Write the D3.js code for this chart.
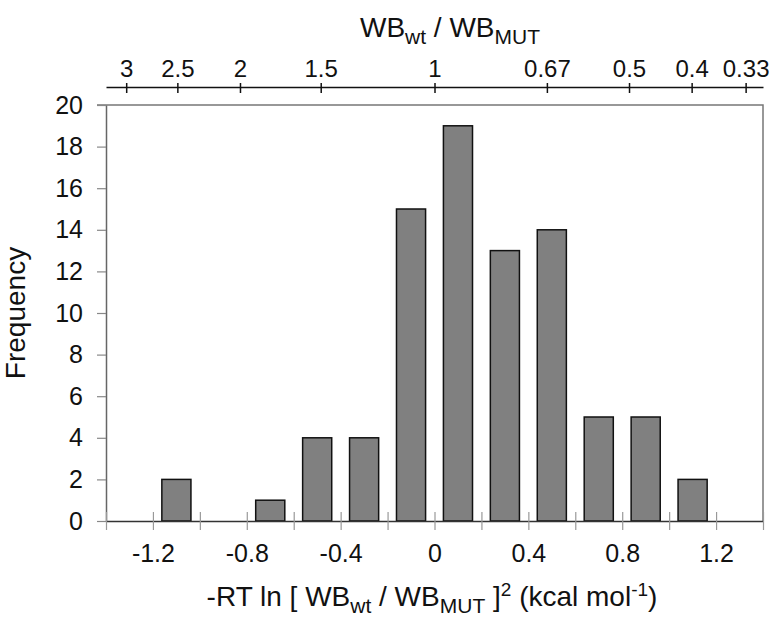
<!DOCTYPE html>
<html>
<head>
<meta charset="utf-8">
<script src="https://cdn.jsdelivr.net/npm/d3@7"></script>
<style>
  body { margin: 0; background: #fff; }
  svg { font-family: "Liberation Sans", Arial, sans-serif; }
</style>
</head>
<body>
<div id="chart"></div>
<script>
// histogram of -RT ln [WBwt/WBmut]^2, bins of 0.2 kcal/mol
var binCenters = [-1.3, -1.1, -0.9, -0.7, -0.5, -0.3, -0.1, 0.1, 0.3, 0.5, 0.7, 0.9, 1.1, 1.3];
var counts = [0, 2, 0, 1, 4, 4, 15, 19, 13, 14, 5, 5, 2, 0];
var bottomTicks = [-1.4, -1.2, -1.0, -0.8, -0.6, -0.4, -0.2, 0, 0.2, 0.4, 0.6, 0.8, 1.0, 1.2, 1.4];
var bottomLabels = [-1.2, -0.8, -0.4, 0, 0.4, 0.8, 1.2];
var yTicks = [0, 2, 4, 6, 8, 10, 12, 14, 16, 18, 20];
var ratioTicks = [3, 2.5, 2, 1.5, 1, 0.67, 0.5, 0.4, 0.33];
var RT = 0.598; // kcal/mol

var width = 782, height = 624;
var plot = {left: 106, right: 763, top: 105, bottom: 521};

var svg = d3.select("#chart").append("svg")
    .attr("width", width)
    .attr("height", height);

var x = d3.scaleLinear().domain([-1.4, 1.4]).range([plot.left, plot.right]);
var y = d3.scaleLinear().domain([0, 20]).range([plot.bottom, plot.top]);
// ratio axis: x = -2 RT ln(r), so it is a log scale in r
var r = d3.scaleLog()
    .domain([Math.exp(1.4 / (2 * RT)), Math.exp(-1.4 / (2 * RT))])
    .range([plot.left, plot.right]);

// frame (top and right)
svg.append("path")
    .attr("d", "M" + (plot.left - 9) + "," + plot.top + "H" + plot.right + "V" + plot.bottom)
    .attr("fill", "none")
    .attr("stroke", "#777")
    .attr("stroke-width", 1.5);

// bars
var bw = (x(0.2) - x(0)) * 0.62;
svg.selectAll(".bar")
    .data(binCenters.map(function(c, i) { return {c: c, n: counts[i]}; })
      .filter(function(d) { return d.n > 0; }))
    .enter().append("rect")
    .attr("class", "bar")
    .attr("x", function(d) { return x(d.c) - bw / 2; })
    .attr("y", function(d) { return y(d.n); })
    .attr("width", bw)
    .attr("height", function(d) { return y(0) - y(d.n); })
    .attr("fill", "#808080")
    .attr("stroke", "#111")
    .attr("stroke-width", 1.5);

// y axis
var gy = svg.append("g")
    .attr("transform", "translate(" + plot.left + ",0)")
    .call(d3.axisLeft(y).tickValues(yTicks).tickSize(9).tickSizeOuter(0).tickPadding(14));
gy.select(".domain").attr("stroke", "#666").attr("stroke-width", 1.5);
gy.selectAll(".tick line").attr("stroke", "#888").attr("stroke-width", 1.2);
gy.selectAll(".tick text").attr("font-size", 25).attr("fill", "#111");

// bottom axis
var gx = svg.append("g")
    .attr("transform", "translate(0," + plot.bottom + ")")
    .call(d3.axisBottom(x).tickValues(bottomTicks).tickSize(0).tickSizeOuter(0)
      .tickFormat(function(d) {
        var lab = bottomLabels.find(function(v) { return Math.abs(v - d) < 1e-6; });
        if (lab === undefined) return "";
        return lab === 0 ? "0" : (lab < 0 ? "-" : "") + Math.abs(lab).toFixed(1);
      }));
gx.select(".domain").attr("stroke", "#333").attr("stroke-width", 1.5);
gx.selectAll(".tick line").attr("y1", -9).attr("y2", 9).attr("stroke", "#999").attr("stroke-width", 1.2);
gx.selectAll(".tick text").attr("y", 41).attr("dy", null).attr("font-size", 25).attr("fill", "#111");

// top axis
var gt = svg.append("g")
    .attr("transform", "translate(0,87)")
    .call(d3.axisTop(r).tickValues(ratioTicks).tickSize(0).tickSizeOuter(0)
      .tickFormat(function(d) { return String(d); }));
gt.select(".domain").attr("stroke", "#111").attr("stroke-width", 1.5);
gt.selectAll(".tick line").attr("y1", -4).attr("y2", 6).attr("stroke", "#111").attr("stroke-width", 1.5);
gt.selectAll(".tick text").attr("y", -10).attr("dy", null).attr("font-size", 24).attr("fill", "#111");

// titles
var topTitle = svg.append("text")
    .attr("x", 450).attr("y", 37)
    .attr("text-anchor", "middle")
    .attr("font-size", 28).attr("fill", "#111");
topTitle.append("tspan").text("WB");
topTitle.append("tspan").attr("font-size", 21).attr("dy", 7).text("wt");
topTitle.append("tspan").attr("dy", -7).text(" / WB");
topTitle.append("tspan").attr("font-size", 21).attr("dy", 7).text("MUT");

var botTitle = svg.append("text")
    .attr("x", 432).attr("y", 606)
    .attr("text-anchor", "middle")
    .attr("font-size", 28).attr("fill", "#111");
botTitle.append("tspan").text("-RT ln [ WB");
botTitle.append("tspan").attr("font-size", 21).attr("dy", 7).text("wt");
botTitle.append("tspan").attr("dy", -7).text(" / WB");
botTitle.append("tspan").attr("font-size", 21).attr("dy", 7).text("MUT");
botTitle.append("tspan").attr("dy", -7).text(" ]");
botTitle.append("tspan").attr("font-size", 19).attr("dy", -10).text("2");
botTitle.append("tspan").attr("dy", 10).text(" (kcal mol");
botTitle.append("tspan").attr("font-size", 19).attr("dy", -10).text("-1");
botTitle.append("tspan").attr("dy", 10).text(")");

svg.append("text")
    .attr("transform", "translate(25,313)rotate(-90)")
    .attr("text-anchor", "middle")
    .attr("font-size", 28).attr("fill", "#111")
    .text("Frequency");
</script>
</body>
</html>
